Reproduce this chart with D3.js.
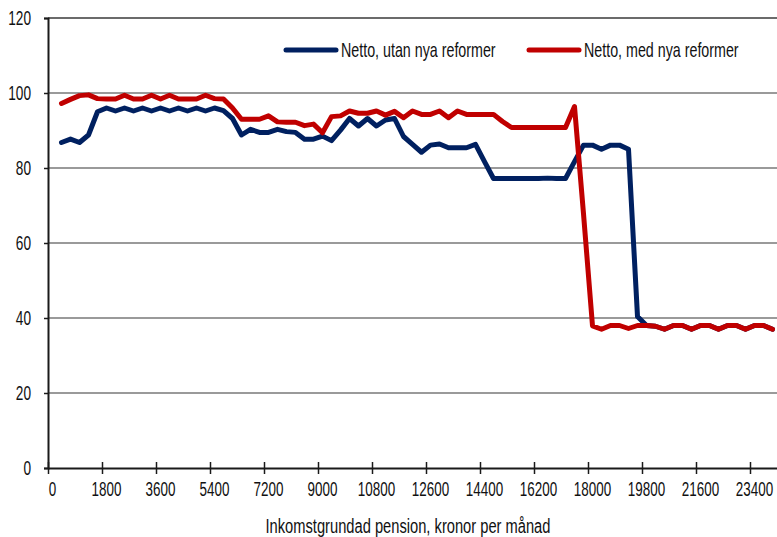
<!DOCTYPE html>
<html>
<head>
<meta charset="utf-8">
<script src="https://cdn.jsdelivr.net/npm/d3@7"></script>
<style>
  html, body { margin: 0; padding: 0; background: #fff; }
  svg { display: block; }
  text { font-family: "Liberation Sans", Arial, sans-serif; fill: #111; }
</style>
</head>
<body>
<svg id="chart" width="777" height="537"></svg>
<script>
// Income (kronor per month) for each data point
const incomes = [450, 750, 1050, 1350, 1650, 1950, 2250, 2550, 2850, 3150,
  3450, 3750, 4050, 4350, 4650, 4950, 5250, 5550, 5850, 6150,
  6450, 6750, 7050, 7350, 7650, 7950, 8250, 8550, 8850, 9150,
  9450, 9750, 10050, 10350, 10650, 10950, 11250, 11550, 11850, 12150,
  12450, 12750, 13050, 13350, 13650, 13950, 14250, 14550, 14850, 15150,
  15450, 15750, 16050, 16350, 16650, 16950, 17250, 17550, 17850, 18150,
  18450, 18750, 19050, 19350, 19650, 19950, 20250, 20550, 20850, 21150,
  21450, 21750, 22050, 22350, 22650, 22950, 23250, 23550, 23850, 24150];

// Netto, utan nya reformer
const nettoUtan = [86.8, 87.7, 86.8, 88.8, 95.0, 96.0, 95.2, 96.0, 95.2, 96.0,
  95.2, 96.0, 95.2, 96.0, 95.2, 96.0, 95.2, 96.0, 95.3, 93.2,
  88.8, 90.3, 89.5, 89.5, 90.3, 89.7, 89.5, 87.7, 87.7, 88.5,
  87.3, 90.1, 93.2, 91.2, 93.2, 91.2, 92.8, 93.2, 88.4, 86.3,
  84.2, 86.1, 86.4, 85.4, 85.4, 85.4, 86.3, 81.7, 77.2, 77.2,
  77.2, 77.2, 77.2, 77.2, 77.3, 77.2, 77.2, 81.7, 86.1, 86.1,
  85.0, 86.1, 86.1, 85.0, 40.4, 38.0, 37.8, 37.0, 38.0, 38.0,
  37.0, 38.0, 38.0, 37.0, 38.0, 38.0, 37.0, 38.0, 38.0, 37.0];

// Netto, med nya reformer
const nettoMed = [97.2, 98.3, 99.3, 99.5, 98.5, 98.4, 98.4, 99.4, 98.4, 98.4,
  99.4, 98.4, 99.4, 98.4, 98.4, 98.4, 99.4, 98.5, 98.4, 96.0,
  93.0, 93.0, 93.0, 93.9, 92.3, 92.2, 92.2, 91.3, 91.7, 89.4,
  93.7, 93.9, 95.2, 94.6, 94.6, 95.2, 94.1, 95.1, 93.4, 95.2,
  94.3, 94.3, 95.2, 93.4, 95.2, 94.3, 94.3, 94.3, 94.3, 92.4,
  90.8, 90.8, 90.8, 90.8, 90.8, 90.8, 90.8, 96.4, 67.8, 37.9,
  37.0, 38.0, 38.0, 37.2, 38.0, 38.0, 37.8, 37.0, 38.0, 38.0,
  37.0, 38.0, 38.0, 37.0, 38.0, 38.0, 37.0, 38.0, 38.0, 37.0];

const xTicks = [0, 1800, 3600, 5400, 7200, 9000, 10800, 12600, 14400, 16200, 18000, 19800, 21600, 23400];
const yTicks = [0, 20, 40, 60, 80, 100, 120];
const seriesNames = ["Netto, utan nya reformer", "Netto, med nya reformer"];
const seriesColors = ["#002060", "#C00000"];
const xTitle = "Inkomstgrundad pension, kronor per månad";

const FS = 21;
const svg = d3.select("#chart");
const W = 777, H = 537;
const m = { left: 48, top: 18, right: 0, bottom: 69 };
const x = d3.scaleLinear().domain([0, 24300]).range([m.left, W - m.right]);
const y = d3.scaleLinear().domain([0, 120]).range([H - m.bottom, m.top]);

// gridlines
svg.append("g").selectAll("line")
  .data(yTicks.filter(d => d > 0 && d < 120))
  .join("line")
  .attr("x1", m.left).attr("x2", W)
  .attr("y1", d => y(d)).attr("y2", d => y(d))
  .attr("stroke", "#9a9a9a").attr("stroke-width", 2);

// top border
svg.append("line")
  .attr("x1", m.left).attr("x2", W)
  .attr("y1", y(120)).attr("y2", y(120))
  .attr("stroke", "#3a3a3a").attr("stroke-width", 1.5);

// Y axis
const KY = 0.65;
const yAxis = d3.axisLeft(y).tickValues(yTicks).tickSize(4).tickPadding(13).tickFormat(d3.format("d"));
const gy = svg.append("g").attr("transform", `translate(${m.left},0)`).call(yAxis);
gy.select(".domain").attr("stroke", "#1a1a1a").attr("stroke-width", 2);
gy.selectAll(".tick line").attr("stroke", "#1a1a1a").attr("stroke-width", 1.5);
gy.selectAll(".tick text").attr("font-size", FS).attr("font-family", null).attr("fill", "#111")
  .attr("x", -17 / KY).attr("transform", `scale(${KY},1)`);

// X axis
const KX = 0.64;
const xAxis = d3.axisBottom(x).tickValues(xTicks).tickSize(6).tickSizeOuter(0).tickPadding(12).tickFormat(d3.format("d"));
const gx = svg.append("g").attr("transform", `translate(0,${y(0)})`).call(xAxis);
gx.select(".domain").attr("stroke", "#1a1a1a").attr("stroke-width", 2);
gx.selectAll(".tick line").attr("y1", -6).attr("stroke", "#1a1a1a").attr("stroke-width", 1.5);
gx.selectAll(".tick text").attr("font-size", FS).attr("font-family", null).attr("fill", "#111")
  .attr("x", 4 / KX).attr("y", 28).attr("dy", 0).attr("transform", `scale(${KX},1)`);

// lines
const line = d3.line().x((d, i) => x(incomes[i])).y(d => y(d));
[nettoUtan, nettoMed].forEach((s, k) => {
  svg.append("path").datum(s)
    .attr("d", line)
    .attr("fill", "none")
    .attr("stroke", seriesColors[k])
    .attr("stroke-width", 5)
    .attr("stroke-linejoin", "round")
    .attr("stroke-linecap", "round");
});

// legend
const KL = 0.68;
const legendPos = [{ x1: 286, x2: 336, tx: 341 }, { x1: 529, x2: 579, tx: 584 }];
legendPos.forEach((p, k) => {
  svg.append("line").attr("x1", p.x1).attr("x2", p.x2).attr("y1", 50).attr("y2", 50)
    .attr("stroke", seriesColors[k]).attr("stroke-width", 5).attr("stroke-linecap", "round");
  svg.append("text").attr("transform", `translate(${p.tx},57) scale(${KL},1)`)
    .attr("font-size", FS).text(seriesNames[k]);
});

// x title
const KT = 0.70;
svg.append("text").attr("transform", `translate(408,533) scale(${KT},1)`)
  .attr("text-anchor", "middle").attr("font-size", FS).text(xTitle);
</script>
</body>
</html>
